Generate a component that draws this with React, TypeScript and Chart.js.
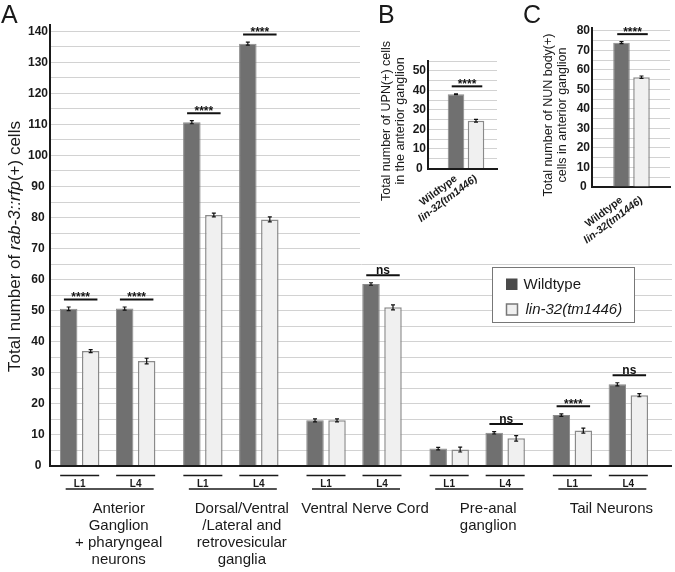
import React, { useEffect, useRef } from 'react';
import { Chart, registerables } from 'chart.js';

Chart.register(...registerables);

const FONT = '"Liberation Sans", Arial, Helvetica, sans-serif';
Chart.defaults.font.family = FONT;

// ---------- data (panel A) ----------
const groupLabels: string[][] = [
  ['Anterior', 'Ganglion', '+ pharyngeal', 'neurons'],
  ['Dorsal/Ventral', '/Lateral and', 'retrovesicular', 'ganglia'],
  ['Ventral Nerve Cord'],
  ['Pre-anal', 'ganglion'],
  ['Tail Neurons'],
];
const stages = ['L1', 'L4'];
const seriesNames = ['Wildtype', 'lin-32(tm1446)'];
const wildtype = [50.6, 50.7, 110.7, 136.0, 14.7, 58.6, 5.6, 10.7, 16.4, 26.3];
const wildtypeErr = [0.6, 0.5, 0.5, 0.5, 0.5, 0.4, 0.4, 0.4, 0.4, 0.5];
const lin32 = [37.0, 33.8, 80.8, 79.4, 14.7, 51.1, 5.3, 8.9, 11.4, 22.8];
const lin32Err = [0.5, 0.9, 0.6, 0.8, 0.5, 0.8, 0.8, 0.9, 0.8, 0.5];
const significance = ['****', '****', '****', '****', '', 'ns', '', 'ns', '****', 'ns'];
const yTitleParts = [
  { text: 'Total number of ', italic: false },
  { text: 'rab-3::rfp', italic: true },
  { text: '(+) cells', italic: false },
];

// ---------- data (panel B) ----------
const upnValues = [38.0, 24.4];
const upnErr = [0.2, 0.7];
const upnSig = '****';
const upnTitle = ['Total number of UPN(+) cells', 'in the anterior ganglion'];

// ---------- data (panel C) ----------
const nunValues = [74.0, 56.3];
const nunErr = [0.5, 0.6];
const nunSig = '****';
const nunTitle = ['Total number of NUN body(+)', 'cells in anterior ganglion'];

// ---------- styles ----------
const W = 675;
const H = 572;
const GROUP_STEP = 2.2;
const WT_FILL = '#707070';
const WT_LEGEND = '#4a4a4a';
const LIN_FILL = '#f0f0f0';
const BAR_EDGE = '#8a8a8a';
const INK = '#1a1a1a';
const GRID = '#d2d2d2';

const catIndex = (g: number, s: number) => g * stages.length + s;
const xPos = (i: number) => Math.floor(i / stages.length) * GROUP_STEP + (i % stages.length);

function drawErrorBars(chart: any, datasetIndex: number, values: number[], errs: number[]) {
  const ctx = chart.ctx;
  const meta = chart.getDatasetMeta(datasetIndex);
  const y = chart.scales.y;
  ctx.save();
  ctx.strokeStyle = '#111';
  ctx.lineWidth = 1.2;
  meta.data.forEach((el: any, i: number) => {
    const e = errs[i];
    if (!e) return;
    const top = y.getPixelForValue(values[i] + e);
    const bot = y.getPixelForValue(values[i] - e);
    ctx.beginPath();
    ctx.moveTo(el.x, top);
    ctx.lineTo(el.x, bot);
    ctx.moveTo(el.x - 2, top);
    ctx.lineTo(el.x + 2, top);
    ctx.moveTo(el.x - 2, bot);
    ctx.lineTo(el.x + 2, bot);
    ctx.stroke();
  });
  ctx.restore();
}

function drawSig(ctx: CanvasRenderingContext2D, label: string, x1: number, x2: number, yLine: number) {
  ctx.save();
  ctx.strokeStyle = '#111';
  ctx.lineWidth = 2;
  ctx.beginPath();
  ctx.moveTo(x1, yLine);
  ctx.lineTo(x2, yLine);
  ctx.stroke();
  ctx.fillStyle = '#111';
  ctx.textAlign = 'center';
  ctx.textBaseline = 'alphabetic';
  const cx = (x1 + x2) / 2;
  if (label === 'ns') {
    ctx.font = `bold 12px ${FONT}`;
    ctx.fillText(label, cx, yLine - 1.5);
  } else {
    ctx.font = `bold 12px ${FONT}`;
    ctx.fillText(label, cx, yLine + 1.5);
  }
  ctx.restore();
}

function drawVerticalText(ctx: CanvasRenderingContext2D, parts: { text: string; italic: boolean }[], x: number, cy: number, size: number) {
  ctx.save();
  ctx.translate(x, cy);
  ctx.rotate(-Math.PI / 2);
  const fonts = parts.map((p) => `${p.italic ? 'italic ' : ''}${size}px ${FONT}`);
  let total = 0;
  const widths = parts.map((p, i) => {
    ctx.font = fonts[i];
    const w = ctx.measureText(p.text).width;
    total += w;
    return w;
  });
  let pos = -total / 2;
  ctx.textAlign = 'left';
  ctx.textBaseline = 'alphabetic';
  ctx.fillStyle = INK;
  parts.forEach((p, i) => {
    ctx.font = fonts[i];
    ctx.fillText(p.text, pos, 0);
    pos += widths[i];
  });
  ctx.restore();
}

const mainPlugin = {
  id: 'mainDecor',
  afterDatasetsDraw(chart: any) {
    const ctx = chart.ctx as CanvasRenderingContext2D;
    drawErrorBars(chart, 0, wildtype, wildtypeErr);
    drawErrorBars(chart, 1, lin32, lin32Err);
    const y = chart.scales.y;
    const m0 = chart.getDatasetMeta(0).data;
    const m1 = chart.getDatasetMeta(1).data;
    significance.forEach((s, i) => {
      if (!s) return;
      const top = Math.min(
        y.getPixelForValue(wildtype[i] + wildtypeErr[i]),
        y.getPixelForValue(lin32[i] + lin32Err[i])
      );
      const a = m0[i];
      const b = m1[i];
      drawSig(ctx, s, a.x - a.width / 2 + 4, b.x + b.width / 2 - 2, top - 7.5);
    });
  },
  afterDraw(chart: any) {
    const ctx = chart.ctx as CanvasRenderingContext2D;
    const area = chart.chartArea;
    const m0 = chart.getDatasetMeta(0).data;
    const m1 = chart.getDatasetMeta(1).data;
    const centers = m0.map((a: any, i: number) => (a.x + m1[i].x) / 2);

    ctx.save();
    ctx.strokeStyle = INK;
    ctx.fillStyle = INK;
    ctx.lineWidth = 1.6;
    // stage underlines and labels
    centers.forEach((c: number, i: number) => {
      ctx.beginPath();
      ctx.moveTo(c - 19.5, area.bottom + 9.5);
      ctx.lineTo(c + 19.5, area.bottom + 9.5);
      ctx.stroke();
      ctx.font = `bold 10px ${FONT}`;
      ctx.textAlign = 'center';
      ctx.textBaseline = 'middle';
      ctx.fillText(stages[i % stages.length], c, area.bottom + 18);
    });
    // group underlines and labels
    groupLabels.forEach((lines, g) => {
      const c1 = centers[catIndex(g, 0)];
      const c2 = centers[catIndex(g, stages.length - 1)];
      ctx.beginPath();
      ctx.moveTo(c1 - 14, area.bottom + 23);
      ctx.lineTo(c2 + 18, area.bottom + 23);
      ctx.stroke();
      ctx.font = `15px ${FONT}`;
      ctx.textAlign = 'center';
      ctx.textBaseline = 'middle';
      lines.forEach((t, k) => {
        ctx.fillText(t, (c1 + c2) / 2 + 11, area.bottom + 43 + k * 17);
      });
    });

    // legend
    const lx = area.right - 179.5;
    const ly = 267.5;
    ctx.fillStyle = '#fff';
    ctx.fillRect(lx, ly, 142, 55);
    ctx.strokeStyle = '#777';
    ctx.lineWidth = 1;
    ctx.strokeRect(lx, ly, 142, 55);
    ctx.fillStyle = WT_LEGEND;
    ctx.fillRect(lx + 13.5, ly + 11, 11.5, 11.5);
    ctx.fillStyle = LIN_FILL;
    ctx.fillRect(lx + 14, ly + 36.5, 11, 11);
    ctx.strokeStyle = '#777';
    ctx.lineWidth = 1.5;
    ctx.strokeRect(lx + 14, ly + 36.5, 11, 11);
    ctx.fillStyle = INK;
    ctx.textAlign = 'left';
    ctx.textBaseline = 'middle';
    ctx.font = `15px ${FONT}`;
    ctx.fillText(seriesNames[0], lx + 31, ly + 17);
    ctx.font = `italic 15px ${FONT}`;
    ctx.fillText(seriesNames[1], lx + 33, ly + 42.5);

    // panel letter
    ctx.font = `25px ${FONT}`;
    ctx.textAlign = 'left';
    ctx.textBaseline = 'alphabetic';
    ctx.fillStyle = INK;
    ctx.fillText('A', 1, 23);
    ctx.restore();

    // y title
    drawVerticalText(ctx, yTitleParts, 19.5, (area.top + area.bottom) / 2 + 1, 17);
  },
};

function mainConfig(): any {
  return {
    type: 'bar',
    data: {
      datasets: [
        {
          label: seriesNames[0],
          data: wildtype.map((v, i) => ({ x: xPos(i), y: v })),
          backgroundColor: WT_FILL,
          borderColor: BAR_EDGE,
          borderWidth: 1,
          categoryPercentage: 0.786,
          barPercentage: 0.795,
        },
        {
          label: seriesNames[1],
          data: lin32.map((v, i) => ({ x: xPos(i), y: v })),
          backgroundColor: LIN_FILL,
          borderColor: BAR_EDGE,
          borderWidth: 1.5,
          categoryPercentage: 0.786,
          barPercentage: 0.795,
        },
      ],
    },
    options: {
      responsive: false,
      animation: false,
      layout: { padding: { left: 0, right: 3, top: 25, bottom: 106 } },
      plugins: { legend: { display: false }, tooltip: { enabled: false } },
      scales: {
        x: {
          type: 'linear',
          display: false,
          offset: false,
          min: -0.53,
          max: 10.58,
          afterBuildTicks: (ax: any) => {
            ax.ticks = wildtype.map((_, i) => ({ value: xPos(i) }));
          },
        },
        y: {
          min: 0,
          max: 142,
          afterFit: (ax: any) => {
            ax.width = 50;
          },
          border: { color: INK, width: 2 },
          grid: {
            drawTicks: false,
            color: (c: any) => (c.tick && c.tick.value === 0 ? INK : GRID),
            lineWidth: (c: any) => (c.tick && c.tick.value === 0 ? 2 : 1),
          },
          ticks: {
            stepSize: 5,
            includeBounds: false,
            autoSkip: false,
            crossAlign: 'center',
            padding: 2,
            color: INK,
            font: { size: 12, weight: 'bold' },
            callback: (v: any) => (Number(v) % 10 === 0 ? String(v) : ''),
          },
        },
      },
    },
    plugins: [mainPlugin],
  };
}

type InsetSpec = {
  values: number[];
  errs: number[];
  sig: string;
  title: string[];
  letter: string;
  yMax: number;
  yAxisWidth: number;
  padTop: number;
  padRight: number;
  xAxisHeight: number;
  xMin: number;
  xMax: number;
  letterX: number;
  titleX: number[];
  titleCY: number;
  labelPad: number;
};

function insetConfig(spec: InsetSpec): any {
  const plugin = {
    id: 'insetDecor',
    afterDatasetsDraw(chart: any) {
      const ctx = chart.ctx as CanvasRenderingContext2D;
      drawErrorBars(chart, 0, spec.values, spec.errs);
      const y = chart.scales.y;
      const d = chart.getDatasetMeta(0).data;
      const top = Math.min(...spec.values.map((v, i) => y.getPixelForValue(v + spec.errs[i])));
      const a = d[0];
      const b = d[d.length - 1];
      drawSig(ctx, spec.sig, a.x - a.width / 2 + 4, b.x + b.width / 2 - 2, top - 7.5);
    },
    afterDraw(chart: any) {
      const ctx = chart.ctx as CanvasRenderingContext2D;
      ctx.save();
      ctx.font = `25px ${FONT}`;
      ctx.fillStyle = INK;
      ctx.textAlign = 'left';
      ctx.textBaseline = 'alphabetic';
      ctx.fillText(spec.letter, spec.letterX, 23);
      ctx.restore();
      spec.title.forEach((t, k) => {
        drawVerticalText(ctx, [{ text: t, italic: false }], spec.titleX[k], spec.titleCY, 12.5);
      });
    },
  };
  return {
    type: 'bar',
    data: {
      datasets: [
        {
          data: spec.values.map((v, i) => ({ x: i, y: v })),
          backgroundColor: [WT_FILL, LIN_FILL],
          borderColor: [BAR_EDGE, BAR_EDGE],
          borderWidth: [1, 1.5],
          categoryPercentage: 0.9,
          barPercentage: 0.92,
        },
      ],
    },
    options: {
      responsive: false,
      animation: false,
      layout: { padding: { left: 0, right: spec.padRight, top: spec.padTop, bottom: 0 } },
      plugins: { legend: { display: false }, tooltip: { enabled: false } },
      scales: {
        x: {
          type: 'linear',
          offset: false,
          min: spec.xMin,
          max: spec.xMax,
          grid: { display: false },
          border: { display: true, color: INK, width: 2 },
          afterBuildTicks: (ax: any) => {
            ax.ticks = seriesNames.map((_, i) => ({ value: i }));
          },
          afterFit: (ax: any) => {
            ax.height = spec.xAxisHeight;
          },
          ticks: {
            autoSkip: false,
            minRotation: 37,
            maxRotation: 37,
            padding: spec.labelPad,
            color: INK,
            font: (c: any) => ({ family: FONT, size: 10.5, weight: 'bold', style: c.index === 1 ? 'italic' : 'normal' }),
            callback: (v: any) => seriesNames[Number(v)] ?? '',
          },
        },
        y: {
          min: 0,
          max: spec.yMax,
          afterFit: (ax: any) => {
            ax.width = spec.yAxisWidth;
          },
          border: { color: INK, width: 2 },
          grid: {
            drawTicks: false,
            color: (c: any) => (c.tick && c.tick.value === 0 ? INK : GRID),
          },
          ticks: {
            stepSize: 5,
            includeBounds: false,
            autoSkip: false,
            crossAlign: 'center',
            padding: 2,
            color: INK,
            font: { size: 12, weight: 'bold' },
            callback: (v: any) => (Number(v) % 10 === 0 ? String(v) : ''),
          },
        },
      },
    },
    plugins: [plugin],
  };
}

const specB: InsetSpec = {
  values: upnValues,
  errs: upnErr,
  sig: upnSig,
  title: upnTitle,
  letter: 'B',
  yMax: 55,
  yAxisWidth: 68,
  padTop: 61,
  padRight: 23,
  xAxisHeight: 87.5,
  xMin: -1.4,
  xMax: 2.05,
  letterX: 18,
  titleX: [30, 43.5],
  titleCY: 121,
  labelPad: -4,
};

const specC: InsetSpec = {
  values: nunValues,
  errs: nunErr,
  sig: nunSig,
  title: nunTitle,
  letter: 'C',
  yMax: 81.5,
  yAxisWidth: 72,
  padTop: 28,
  padRight: 5,
  xAxisHeight: 69,
  xMin: -1.475,
  xMax: 2.425,
  letterX: 3,
  titleX: [31.5, 45.5],
  titleCY: 115,
  labelPad: -1,
};

export default function App() {
  const mainRef = useRef<HTMLCanvasElement>(null);
  const bRef = useRef<HTMLCanvasElement>(null);
  const cRef = useRef<HTMLCanvasElement>(null);

  useEffect(() => {
    const charts = [
      new Chart(mainRef.current as HTMLCanvasElement, mainConfig()),
      new Chart(bRef.current as HTMLCanvasElement, insetConfig(specB)),
      new Chart(cRef.current as HTMLCanvasElement, insetConfig(specC)),
    ];
    return () => charts.forEach((c) => c.destroy());
  }, []);

  return (
    <div style={{ position: 'fixed', left: 0, top: 0, width: W, height: H, background: '#fff', overflow: 'hidden' }}>
      <canvas ref={mainRef} width={W} height={H} style={{ position: 'absolute', left: 0, top: 0, width: W, height: H }} />
      <canvas ref={bRef} width={160} height={256} style={{ position: 'absolute', left: 360, top: 0, width: 160, height: 256, background: '#fff' }} />
      <canvas ref={cRef} width={155} height={256} style={{ position: 'absolute', left: 520, top: 0, width: 155, height: 256, background: '#fff' }} />
    </div>
  );
}
